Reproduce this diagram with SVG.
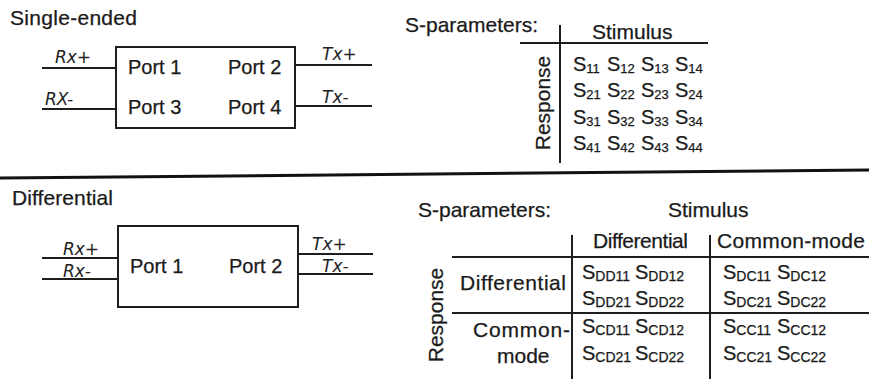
<svg xmlns="http://www.w3.org/2000/svg" width="869" height="379" viewBox="0 0 869 379">
<style>
text{font-family:"Liberation Sans",Arial,sans-serif;fill:#1a1a1a;stroke:#1a1a1a;stroke-width:0.25}
.t{font-size:21px}
.p{font-size:20px}
.h{font-family:"DejaVu Sans","Liberation Sans",sans-serif;font-size:17px;font-style:italic;font-weight:300;fill:#222;stroke:none}
.s{font-size:20px}
.sub{font-size:13px}
.sub2{font-size:14px}
.ln{stroke:#1e1e1e;stroke-width:2;fill:none}
.box{stroke:#1e1e1e;stroke-width:2;fill:#fff}
</style>
<rect width="869" height="379" fill="#fff"/>

<!-- separator -->
<line x1="0" y1="178" x2="869" y2="170" stroke="#111" stroke-width="3"/>

<!-- Single-ended section -->
<text class="t" x="10" y="25" textLength="127">Single-ended</text>
<g id="se-box">
  <rect class="box" x="116" y="47" width="179" height="81"/>
  <text class="p" x="128" y="74">Port 1</text>
  <text class="p" x="228" y="74">Port 2</text>
  <text class="p" x="128" y="114">Port 3</text>
  <text class="p" x="228" y="114">Port 4</text>
</g>
<g id="se-connectors">
  <line class="ln" x1="42" y1="68" x2="116" y2="68"/>
  <line class="ln" x1="42" y1="109" x2="116" y2="109"/>
  <line class="ln" x1="295" y1="65" x2="372" y2="65"/>
  <line class="ln" x1="295" y1="106" x2="372" y2="106"/>
  <text class="h" x="55" y="63">Rx+</text>
  <text class="h" x="45" y="105">RX-</text>
  <text class="h" x="322" y="60">Tx+</text>
  <text class="h" x="322" y="103">Tx-</text>
</g>

<g id="se-sparams">
  <text class="t" x="405" y="32">S-parameters:</text>
  <line class="ln" x1="560" y1="25" x2="560" y2="163" stroke-width="1.5"/>
  <line class="ln" x1="520" y1="43" x2="708" y2="43"/>
  <text class="t" x="592" y="39">Stimulus</text>
  <text class="t" transform="translate(550,103) rotate(-90)" text-anchor="middle">Response</text>
  <g class="s">
    <text x="573" y="71">S<tspan class="sub" dy="2">11</tspan></text>
    <text x="607" y="71">S<tspan class="sub" dy="2">12</tspan></text>
    <text x="641" y="71">S<tspan class="sub" dy="2">13</tspan></text>
    <text x="675" y="71">S<tspan class="sub" dy="2">14</tspan></text>
    <text x="573" y="97">S<tspan class="sub" dy="2">21</tspan></text>
    <text x="607" y="97">S<tspan class="sub" dy="2">22</tspan></text>
    <text x="641" y="97">S<tspan class="sub" dy="2">23</tspan></text>
    <text x="675" y="97">S<tspan class="sub" dy="2">24</tspan></text>
    <text x="573" y="124">S<tspan class="sub" dy="2">31</tspan></text>
    <text x="607" y="124">S<tspan class="sub" dy="2">32</tspan></text>
    <text x="641" y="124">S<tspan class="sub" dy="2">33</tspan></text>
    <text x="675" y="124">S<tspan class="sub" dy="2">34</tspan></text>
    <text x="573" y="150">S<tspan class="sub" dy="2">41</tspan></text>
    <text x="607" y="150">S<tspan class="sub" dy="2">42</tspan></text>
    <text x="641" y="150">S<tspan class="sub" dy="2">43</tspan></text>
    <text x="675" y="150">S<tspan class="sub" dy="2">44</tspan></text>
  </g>
</g>

<!-- Differential section -->
<text class="t" x="12" y="205" textLength="101">Differential</text>
<g id="diff-box">
  <rect class="box" x="118" y="226" width="180" height="81"/>
  <text class="p" x="130" y="273">Port 1</text>
  <text class="p" x="229" y="273">Port 2</text>
</g>
<g id="diff-connectors">
  <line class="ln" x1="42" y1="258" x2="118" y2="258"/>
  <line class="ln" x1="42" y1="279" x2="118" y2="279"/>
  <line class="ln" x1="298" y1="254" x2="373" y2="254"/>
  <line class="ln" x1="298" y1="274" x2="373" y2="274"/>
  <text class="h" x="63" y="255">Rx+</text>
  <text class="h" x="63" y="277">Rx-</text>
  <text class="h" x="312" y="250">Tx+</text>
  <text class="h" x="322" y="272">Tx-</text>
</g>

<g id="diff-sparams">
  <text class="t" x="418" y="217">S-parameters:</text>
  <text class="t" x="668" y="217">Stimulus</text>
  <line class="ln" x1="572" y1="235" x2="572" y2="379" stroke-width="1.5"/>
  <line class="ln" x1="710" y1="235" x2="710" y2="379" stroke-width="1.5"/>
  <line class="ln" x1="452" y1="257" x2="869" y2="257"/>
  <line class="ln" x1="452" y1="313" x2="869" y2="313"/>
  <text class="t" x="593" y="248" textLength="95">Differential</text>
  <text class="t" x="717" y="248" textLength="148">Common-mode</text>
  <text class="t" transform="translate(443,315) rotate(-90)" text-anchor="middle">Response</text>
  <text class="t" x="460" y="290" textLength="106">Differential</text>
  <text class="t" x="473" y="337" textLength="97">Common-</text>
  <text class="t" x="497" y="363">mode</text>
  <g class="s">
    <text x="582" y="279">S<tspan class="sub2" dy="2">DD11</tspan></text>
    <text x="635" y="279">S<tspan class="sub2" dy="2">DD12</tspan></text>
    <text x="582" y="305">S<tspan class="sub2" dy="2">DD21</tspan></text>
    <text x="635" y="305">S<tspan class="sub2" dy="2">DD22</tspan></text>
    <text x="723" y="279">S<tspan class="sub2" dy="2">DC11</tspan></text>
    <text x="777" y="279">S<tspan class="sub2" dy="2">DC12</tspan></text>
    <text x="723" y="305">S<tspan class="sub2" dy="2">DC21</tspan></text>
    <text x="777" y="305">S<tspan class="sub2" dy="2">DC22</tspan></text>
    <text x="582" y="333">S<tspan class="sub2" dy="2">CD11</tspan></text>
    <text x="635" y="333">S<tspan class="sub2" dy="2">CD12</tspan></text>
    <text x="582" y="360">S<tspan class="sub2" dy="2">CD21</tspan></text>
    <text x="635" y="360">S<tspan class="sub2" dy="2">CD22</tspan></text>
    <text x="723" y="333">S<tspan class="sub2" dy="2">CC11</tspan></text>
    <text x="777" y="333">S<tspan class="sub2" dy="2">CC12</tspan></text>
    <text x="723" y="360">S<tspan class="sub2" dy="2">CC21</tspan></text>
    <text x="777" y="360">S<tspan class="sub2" dy="2">CC22</tspan></text>
  </g>
</g>
</svg>
